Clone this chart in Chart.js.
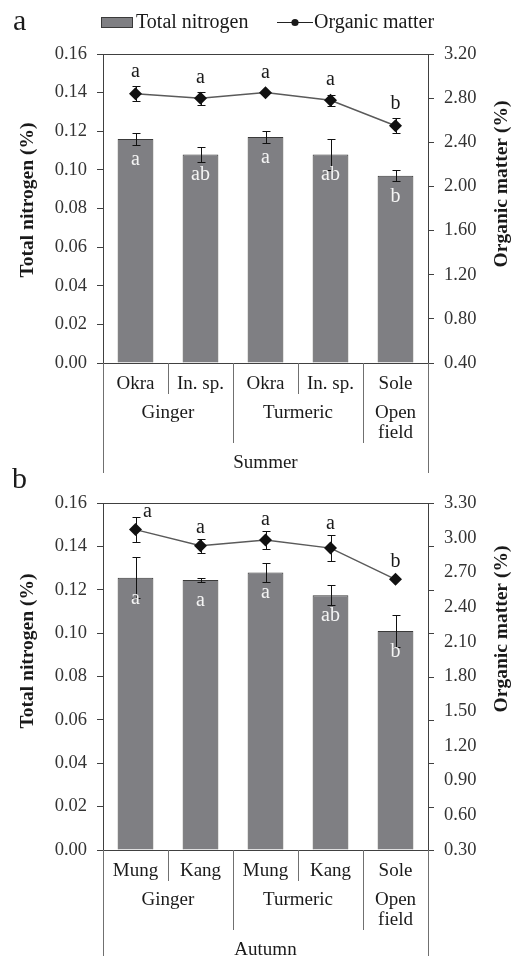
<!DOCTYPE html>
<html>
<head>
<meta charset="utf-8">
<script src="https://cdn.jsdelivr.net/npm/chart.js@4.4.1/dist/chart.umd.min.js"></script>
<style>
  html, body { margin: 0; padding: 0; background: #fff; }
  #wrap { position: relative; width: 513px; height: 956px; overflow: hidden; }
  canvas { position: absolute; left: 0; }
  #chartA { top: 0; }
  #chartB { top: 460px; }
</style>
</head>
<body>
<div id="wrap">
  <canvas id="chartA" width="513" height="480"></canvas>
  <canvas id="chartB" width="513" height="496"></canvas>
</div>
<script>
// ---- data ----
const groupLabels = ["Ginger", "Turmeric", ["Open", "field"]];
const groupSizes = [2, 2, 1];
const nitrogenTicks = [0, 0.02, 0.04, 0.06, 0.08, 0.1, 0.12, 0.14, 0.16];

// a: summer
const summerLabels = ["Okra", "In. sp.", "Okra", "In. sp.", "Sole"];
const summerNitrogen = [0.116, 0.108, 0.117, 0.108, 0.097];
const summerNitrogenErr = [0.003, 0.004, 0.003, 0.008, 0.003];
const summerNitrogenLetters = ["a", "ab", "a", "ab", "b"];
const summerOrganic = [2.84, 2.80, 2.85, 2.78, 2.55];
const summerOrganicErr = [0.07, 0.06, 0, 0.05, 0.07];
const summerOrganicLetters = ["a", "a", "a", "a", "b"];
const summerOrganicTicks = [0.4, 0.8, 1.2, 1.6, 2.0, 2.4, 2.8, 3.2];

// b: autumn
const autumnLabels = ["Mung", "Kang", "Mung", "Kang", "Sole"];
const autumnNitrogen = [0.1255, 0.1245, 0.128, 0.1175, 0.101];
const autumnNitrogenErr = [0.0095, 0.001, 0.0045, 0.0047, 0.0075];
const autumnNitrogenLetters = ["a", "a", "a", "ab", "b"];
const autumnOrganic = [3.07, 2.93, 2.98, 2.91, 2.64];
const autumnOrganicErr = [0.11, 0.06, 0.08, 0.11, 0];
const autumnOrganicLetters = ["a", "a", "a", "a", "b"];
const autumnOrganicTicks = [0.3, 0.6, 0.9, 1.2, 1.5, 1.8, 2.1, 2.4, 2.7, 3.0, 3.3];

const SERIF = "'Liberation Serif', 'Times New Roman', serif";
const INK = "#1a1a1a";
const AXIS = "#404040";
const SEP = "#707070";
const BAR_FILL = "#7f7f83";
const BAR_EDGE = "#3a3a3a";

function vline(ctx, x, y0, y1, color) {
  const xx = Math.round(x) + 0.5;
  ctx.strokeStyle = color;
  ctx.lineWidth = 1;
  ctx.beginPath();
  ctx.moveTo(xx, y0);
  ctx.lineTo(xx, y1);
  ctx.stroke();
}

function decor(p) {
  return {
    id: "decor",
    afterDatasetsDraw(chart) {
      const { ctx, scales } = chart;
      ctx.save();
      // error bars
      chart.data.datasets.forEach((ds, i) => {
        const sc = scales[ds.yAxisID];
        const meta = chart.getDatasetMeta(i);
        ds.data.forEach((v, j) => {
          const e = ds.errors[j];
          if (!e) return;
          const x = Math.round(meta.data[j].x) + 0.5;
          const yTop = Math.round(sc.getPixelForValue(v + e)) + 0.5;
          const yBot = Math.round(sc.getPixelForValue(v - e)) + 0.5;
          ctx.strokeStyle = "#111";
          ctx.lineWidth = 1;
          ctx.beginPath();
          ctx.moveTo(x, yTop); ctx.lineTo(x, yBot);
          ctx.moveTo(x - 4, yTop); ctx.lineTo(x + 4, yTop);
          ctx.moveTo(x - 4, yBot); ctx.lineTo(x + 4, yBot);
          ctx.stroke();
        });
      });

      // significance letters
      ctx.textAlign = "center";
      ctx.textBaseline = "alphabetic";
      ctx.font = `20px ${SERIF}`;
      const bars = chart.getDatasetMeta(0).data;
      const pts = chart.getDatasetMeta(1).data;
      const nDs = chart.data.datasets[0];
      const oDs = chart.data.datasets[1];
      ctx.fillStyle = "#f4f4f4";
      bars.forEach((b, j) => ctx.fillText(nDs.letters[j], b.x, b.y + 26));
      ctx.fillStyle = INK;
      pts.forEach((pt, j) => {
        const v = oDs.data[j], e = oDs.errors[j];
        const top = Math.min(scales.y2.getPixelForValue(v + e), pt.y - 6);
        const nudge = (p.letterNudge && p.letterNudge[j]) || [0, 0];
        ctx.fillText(oDs.letters[j], pt.x + nudge[0], top - p.letterGap + nudge[1]);
      });
      ctx.restore();
    },
    afterDraw(chart) {
      const { ctx, chartArea: a, scales } = chart;
      ctx.save();

      // top frame line
      const yt = Math.round(a.top) + 0.5;
      ctx.strokeStyle = AXIS;
      ctx.lineWidth = 1;
      ctx.beginPath();
      ctx.moveTo(a.left, yt);
      ctx.lineTo(a.right, yt);
      ctx.stroke();

      // right tick marks placed at the left axis positions
      if (p.rightTicksAtLeft) {
        scales.y.ticks.forEach(t => {
          const y = Math.round(scales.y.getPixelForValue(t.value)) + 0.5;
          ctx.beginPath();
          ctx.moveTo(a.right, y);
          ctx.lineTo(a.right + 6, y);
          ctx.stroke();
        });
      }

      // category axis: labels, group labels, separators
      const xs = chart.data.labels.map((_, i) => scales.x.getPixelForValue(i));
      const half = (xs[1] - xs[0]) / 2;
      const base = a.bottom;
      vline(ctx, a.left, base, base + 110, SEP);
      vline(ctx, a.right, base, base + 110, SEP);
      ctx.fillStyle = INK;
      ctx.textAlign = "center";
      ctx.textBaseline = "alphabetic";
      ctx.font = `19px ${SERIF}`;
      chart.data.labels.forEach((l, i) => ctx.fillText(l, xs[i], base + 26));
      let idx = 0;
      groupSizes.forEach((n, g) => {
        const start = idx, end = idx + n - 1;
        for (let k = start; k < end; k++) vline(ctx, xs[k] + half, base, base + 31, SEP);
        if (g < groupSizes.length - 1) vline(ctx, xs[end] + half, base, base + 80, SEP);
        const cx = (xs[start] + xs[end]) / 2;
        [].concat(groupLabels[g]).forEach((t, li) => ctx.fillText(t, cx, base + 55 + li * 20));
        idx += n;
      });
      ctx.fillText(p.season, (a.left + a.right) / 2, base + 104.5);

      // axis titles (both read bottom to top)
      ctx.font = `bold 19.5px ${SERIF}`;
      ctx.textBaseline = "middle";
      ctx.save();
      ctx.translate(28, p.leftTitleY);
      ctx.rotate(-Math.PI / 2);
      ctx.fillText("Total nitrogen (%)", 0, 0);
      ctx.restore();
      ctx.save();
      ctx.translate(502, p.rightTitleY);
      ctx.rotate(-Math.PI / 2);
      ctx.fillText("Organic matter (%)", 0, 0);
      ctx.restore();

      // panel letter
      ctx.font = `30px ${SERIF}`;
      ctx.textAlign = "left";
      ctx.textBaseline = "alphabetic";
      ctx.fillText(p.tag, p.tagX, p.tagY);

      // legend
      if (p.legend) {
        const ds = chart.data.datasets;
        ctx.font = `20px ${SERIF}`;
        ctx.fillStyle = BAR_FILL;
        ctx.fillRect(101, 17, 32, 11);
        ctx.strokeStyle = BAR_EDGE;
        ctx.strokeRect(101.5, 17.5, 31, 10);
        ctx.fillStyle = INK;
        ctx.fillText(ds[0].label, 136, 28);
        ctx.strokeStyle = "#222";
        ctx.beginPath();
        ctx.moveTo(277, 22.5);
        ctx.lineTo(313, 22.5);
        ctx.stroke();
        ctx.beginPath();
        ctx.arc(295, 22.5, 3.6, 0, Math.PI * 2);
        ctx.fill();
        ctx.fillText(ds[1].label, 314, 28);
      }
      ctx.restore();
    },
  };
}

function makePanel(id, p) {
  const tickFont = { family: SERIF, size: 18.5 };
  return new Chart(document.getElementById(id), {
    type: "bar",
    data: {
      labels: p.labels,
      datasets: [
        {
          type: "bar",
          label: "Total nitrogen",
          data: p.nitrogen,
          errors: p.nitrogenErr,
          letters: p.nitrogenLetters,
          yAxisID: "y",
          order: 1,
          backgroundColor: BAR_FILL,
          borderColor: BAR_EDGE,
          borderWidth: 1,
          barPercentage: 0.55,
          categoryPercentage: 1,
        },
        {
          type: "line",
          label: "Organic matter",
          data: p.organic,
          errors: p.organicErr,
          letters: p.organicLetters,
          yAxisID: "y2",
          order: 0,
          borderColor: "#5a5a5a",
          borderWidth: 1.5,
          pointStyle: "rectRot",
          pointRadius: 6.5,
          pointBackgroundColor: "#111",
          pointBorderColor: "#111",
          pointBorderWidth: 0,
        },
      ],
    },
    options: {
      responsive: false,
      animation: false,
      events: [],
      layout: { padding: { top: p.top, left: 0, right: 0, bottom: 0 } },
      plugins: { legend: { display: false }, tooltip: { enabled: false } },
      scales: {
        x: {
          offset: true,
          grid: { display: false },
          border: { color: AXIS, width: 1 },
          ticks: { display: false },
          afterFit: s => { s.height = p.xHeight; },
        },
        y: {
          position: "left",
          min: nitrogenTicks[0],
          max: nitrogenTicks[nitrogenTicks.length - 1],
          afterBuildTicks: s => { s.ticks = nitrogenTicks.map(v => ({ value: v })); },
          afterFit: s => { s.width = 103; },
          grid: { drawOnChartArea: false, tickLength: 6, tickColor: AXIS },
          border: { color: AXIS, width: 1 },
          ticks: { font: tickFont, color: "#333", padding: 10, callback: v => Number(v).toFixed(2) },
        },
        y2: {
          position: "right",
          min: p.organicTicks[0],
          max: p.organicTicks[p.organicTicks.length - 1],
          afterBuildTicks: s => { s.ticks = p.organicTicks.map(v => ({ value: v })); },
          afterFit: s => { s.width = 85; },
          grid: {
            drawOnChartArea: false,
            tickLength: 6,
            tickColor: p.rightTicksAtLeft ? "rgba(0,0,0,0)" : AXIS,
          },
          border: { color: AXIS, width: 1 },
          ticks: { font: tickFont, color: "#333", padding: 10, callback: v => Number(v).toFixed(2) },
        },
      },
    },
    plugins: [decor(p)],
  });
}

makePanel("chartA", {
  labels: summerLabels,
  nitrogen: summerNitrogen,
  nitrogenErr: summerNitrogenErr,
  nitrogenLetters: summerNitrogenLetters,
  organic: summerOrganic,
  organicErr: summerOrganicErr,
  organicLetters: summerOrganicLetters,
  organicTicks: summerOrganicTicks,
  season: "Summer",
  top: 54,
  xHeight: 117,
  letterGap: 9,
  leftTitleY: 200,
  rightTitleY: 184,
  tag: "a",
  tagX: 13,
  tagY: 30,
  legend: true,
  rightTicksAtLeft: false,
});

makePanel("chartB", {
  labels: autumnLabels,
  nitrogen: autumnNitrogen,
  nitrogenErr: autumnNitrogenErr,
  nitrogenLetters: autumnNitrogenLetters,
  organic: autumnOrganic,
  organicErr: autumnOrganicErr,
  organicLetters: autumnOrganicLetters,
  organicTicks: autumnOrganicTicks,
  season: "Autumn",
  top: 43,
  xHeight: 106,
  letterGap: 6,
  letterNudge: { 0: [12, 6] },
  leftTitleY: 191,
  rightTitleY: 169,
  tag: "b",
  tagX: 12,
  tagY: 28,
  legend: false,
  rightTicksAtLeft: true,
});
</script>
</body>
</html>
